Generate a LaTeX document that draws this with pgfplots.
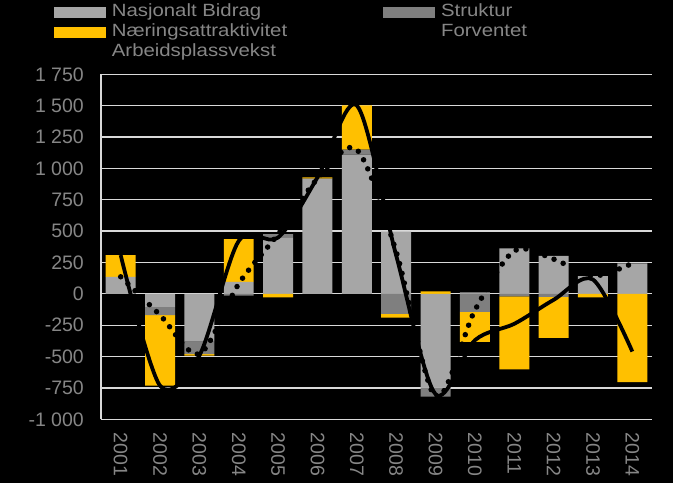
\documentclass[border=0pt]{standalone}
\usepackage{pgfplots}
\pgfplotsset{compat=1.18}
\usepackage{pgfplotstable}
\usepackage{fontspec}
\setmainfont{Liberation Sans}
\newfontfamily\legfont[FakeStretch=1.15]{Liberation Sans}
\definecolor{nasj}{HTML}{A6A6A6}
\definecolor{strk}{HTML}{7F7F7F}
\definecolor{naer}{HTML}{FFC000}
\definecolor{txt}{HTML}{868686}
\definecolor{grd}{HTML}{D9D9D9}

% N = Nasjonalt Bidrag, S = Struktur, E = Naeringsattraktivitet,
% F = Forventet, A = Arbeidsplassvekst
\pgfplotstableread{
x N S E F A
0 136 0 173 136 309
1 -103 -66 -563 -169 -732
2 -380 -100 -12 -480 -492
3 96 -15 341 81 422
4 447 30 -28 477 449
5 918 0 10 918 928
6 1110 40 352 1150 1502
7 496 -159 -31 337 306
8 -748 -72 20 -820 -800
9 12 -143 -239 -131 -370
10 363 -20 -582 343 -239
11 302 -25 -325 277 -48
12 142 0 -28 142 114
13 243 0 -703 243 -460
}\data

\pgfplotsset{
  base/.style={scale only axis, width=551bp, height=345bp,
    at={(101bp,63.7bp)}, anchor=south west,
    xmin=-0.5, xmax=13.5, ymin=-1000, ymax=1750},
  leg/.style={legend image code/.code={\fill[##1] (0bp,-5.5bp) rectangle (52bp,5.5bp);}},
}

\begin{document}
\begin{tikzpicture}
\fill[black] (0,0) rectangle (673bp,483bp);
\useasboundingbox (0,0) rectangle (673bp,483bp);
\begin{axis}[base, ybar stacked, bar width=0.762,
  axis x line*=bottom, axis y line*=left,
  axis line style={grd, line width=1.3bp, -},
  ymajorgrids, grid style={grd, line width=1.3bp},
  ytick={-1000,-750,-500,-250,0,250,500,750,1000,1250,1500,1750},
  yticklabels={-1 000,-750,-500,-250,0,250,500,750,1 000,1 250,1 500,1 750},
  xtick={0,1,2,3,4,5,6,7,8,9,10,11,12,13},
  xticklabels={2001,2002,2003,2004,2005,2006,2007,2008,2009,2010,2011,2012,2013,2014},
  major tick length=0pt, tick style={draw=none},
  xticklabel style={rotate=-90, anchor=west, inner sep=0pt,
    font=\fontsize{19.5bp}{22bp}\selectfont, text=txt},
  xticklabel shift=13bp,
  yticklabel style={anchor=east, inner sep=0pt,
    font=\fontsize{19.5bp}{22bp}\selectfont, text=txt},
  yticklabel shift=17bp,
  legend columns=2, legend cell align=left,
  legend style={at={(-0.0853,1.2075)}, anchor=north west, draw=none, fill=none,
    inner sep=0pt, outer sep=0pt,
    font=\legfont\fontsize{17.7bp}{20bp}\selectfont, text=txt,
    row sep=0pt, column sep=0pt,
    /tikz/every odd column/.append style={column sep=5.5bp},
    /tikz/every even column/.append style={column sep=96bp},
    nodes={inner sep=0pt, text height=14bp, text depth=6bp}},
]
\addplot[fill=nasj, draw=none, leg] table[x=x, y expr={max(\thisrow{N},0)}] {\data};
\addlegendentry{Nasjonalt Bidrag}
\addplot[fill=strk, draw=none, leg] table[x=x, y expr={max(\thisrow{S},0)}] {\data};
\addlegendentry{Struktur}
\addplot[fill=naer, draw=none, leg] table[x=x, y expr={max(\thisrow{E},0)}] {\data};
\addlegendentry{N\ae ringsattraktivitet}
\addlegendimage{black, leg}
\addlegendentry{Forventet}
\addlegendimage{black, leg}
\addlegendentry{Arbeidsplassvekst}
\end{axis}

\begin{axis}[base, hide axis, ybar stacked, bar width=0.762]
\addplot[fill=nasj, draw=none] table[x=x, y expr={min(\thisrow{N},0)}] {\data};
\addplot[fill=strk, draw=none] table[x=x, y expr={min(\thisrow{S},0)}] {\data};
\addplot[fill=naer, draw=none] table[x=x, y expr={min(\thisrow{E},0)}] {\data};
\end{axis}

\begin{axis}[base, hide axis]
\addplot[smooth, black, line width=5.5bp, line cap=round,
  dash pattern=on 0bp off 10bp] table[x=x, y=F] {\data};
\addplot[smooth, black, line width=3.8bp] table[x=x, y=A] {\data};
\end{axis}
\end{tikzpicture}
\end{document}
